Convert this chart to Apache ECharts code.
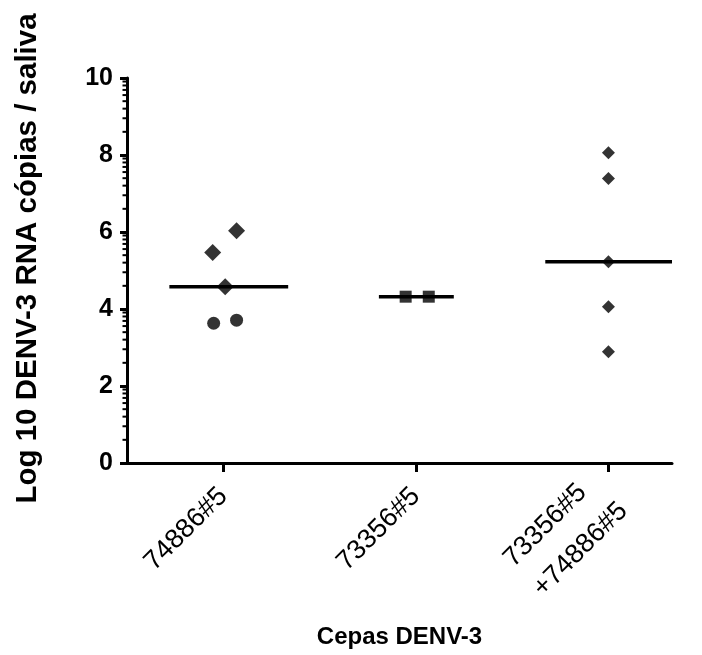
<!DOCTYPE html>
<html>
<head>
<meta charset="utf-8">
<script src="https://cdn.jsdelivr.net/npm/echarts@6/dist/echarts.min.js"></script>
<style>
html,body{margin:0;padding:0;background:#fff;}
#chart{width:702px;height:655px;}
</style>
</head>
<body>
<div id="chart"></div>
<script>
// ---- data ----
const categories = ['74886#5', '73356#5', '73356#5\n+74886#5'];
const categoryPositions = [1, 2, 3];
const yTicks = [0, 2, 4, 6, 8, 10];
const minorMantissas = [2, 3, 4, 5, 6, 7, 8, 9];

// group 1 (74886#5): diamonds and circles, [x jitter position, log10 copies]
const g1Diamonds = [[0.945, 5.47], [1.069, 6.03], [1.01, 4.58]];
const g1Circles = [[0.95, 3.63], [1.069, 3.71]];
// group 2 (73356#5): squares
const g2Squares = [[1.947, 4.32], [2.067, 4.32]];
// group 3 (73356#5 + 74886#5): diamonds
const g3Diamonds = [[3, 8.06], [3, 7.39], [3, 5.23], [3, 4.06], [3, 2.89]];

// ---- helpers ----
function median(arr) {
  const s = arr.slice().sort((a, b) => a - b);
  const n = s.length;
  return n % 2 ? s[(n - 1) / 2] : (s[n / 2 - 1] + s[n / 2]) / 2;
}
const g1Vals = g1Diamonds.concat(g1Circles).map(d => d[1]);
const g2Vals = g2Squares.map(d => d[1]);
const g3Vals = g3Diamonds.map(d => d[1]);
// median line extents (style)
const medSpans = [[0.72, 1.337], [1.808, 2.197], [2.672, 3.33]];
const medians = [median(g1Vals), median(g2Vals), median(g3Vals)];

const minorVals = [];
for (let k = 0; k < yTicks.length - 1; k++) {
  const lo = yTicks[k], hi = yTicks[k + 1];
  minorMantissas.forEach(m => minorVals.push(lo + (hi - lo) * Math.log10(m)));
}

const xMin = 0.5, xMax = 3.33;
const FONT = '"Liberation Sans", Arial, sans-serif';
const LBL = 27;

const chart = echarts.init(document.getElementById('chart'), null, {renderer: 'canvas'});

const medianSeries = medians.map((m, i) => ({
  type: 'line',
  data: [[medSpans[i][0], m], [medSpans[i][1], m]],
  symbol: 'none',
  lineStyle: {color: '#000', width: 3.5},
  silent: true,
  z: 2
}));

chart.setOption({
  animation: false,
  backgroundColor: '#fff',
  grid: {left: 127, right: 30, top: 78, bottom: 192, containLabel: false, outerBoundsMode: 'none'},
  xAxis: {
    type: 'value',
    min: xMin,
    max: xMax,
    name: 'Cepas DENV-3',
    nameLocation: 'middle',
    nameGap: 162,
    nameTextStyle: {fontFamily: FONT, fontWeight: 'bold', fontSize: 24, color: '#000'},
    axisLine: {show: true, lineStyle: {color: '#000', width: 3}},
    axisTick: {show: true, customValues: categoryPositions, length: 9, lineStyle: {color: '#000', width: 3}},
    axisLabel: {
      show: true,
      customValues: categoryPositions,
      rotate: 45,
      margin: 29,
      fontFamily: FONT,
      fontSize: LBL,
      color: '#000',
      formatter: v => {
        const lab = categories[Math.round(v) - 1] || '';
        const parts = lab.split('\n');
        if (parts.length > 1) return '{a|' + parts[0] + '}\n{b|' + parts[1] + '}';
        return lab;
      },
      rich: {
        a: {fontFamily: FONT, fontSize: LBL, color: '#000', align: 'left', lineHeight: 42},
        b: {fontFamily: FONT, fontSize: LBL, color: '#000', align: 'left', lineHeight: 42}
      }
    },
    splitLine: {show: false}
  },
  yAxis: {
    type: 'value',
    min: 0,
    max: 10,
    interval: 2,
    name: 'Log 10 DENV-3 RNA cópias / saliva',
    nameLocation: 'middle',
    nameGap: 84,
    nameTextStyle: {fontFamily: FONT, fontWeight: 'bold', fontSize: 29.5, color: '#000', padding: [0, 0, 0, 24]},
    axisLine: {show: true, lineStyle: {color: '#000', width: 3}},
    axisTick: {show: true, length: 7, lineStyle: {color: '#000', width: 3}},
    axisLabel: {fontFamily: FONT, fontWeight: 'bold', fontSize: 25, color: '#000', margin: 14},
    splitLine: {show: false}
  },
  series: [
    {
      type: 'custom',
      data: minorVals.map(v => [xMin, v]),
      clip: false,
      silent: true,
      z: 3,
      renderItem: (params, api) => {
        const p = api.coord([api.value(0), api.value(1)]);
        return {
          type: 'line',
          shape: {x1: p[0] - 4.5, y1: p[1], x2: p[0], y2: p[1]},
          style: {stroke: '#000', lineWidth: 2}
        };
      }
    },
    ...medianSeries,
    {type: 'scatter', data: g1Diamonds, symbol: 'diamond', symbolSize: 17, itemStyle: {color: '#000'}, z: 5},
    {type: 'scatter', data: g1Circles, symbol: 'circle', symbolSize: 13, itemStyle: {color: '#000'}, z: 5},
    {type: 'scatter', data: g2Squares, symbol: 'rect', symbolSize: [12, 12], itemStyle: {color: '#000'}, z: 5},
    {type: 'scatter', data: g3Diamonds, symbol: 'diamond', symbolSize: 13, itemStyle: {color: '#000'}, z: 5}
  ]
});
</script>
</body>
</html>
